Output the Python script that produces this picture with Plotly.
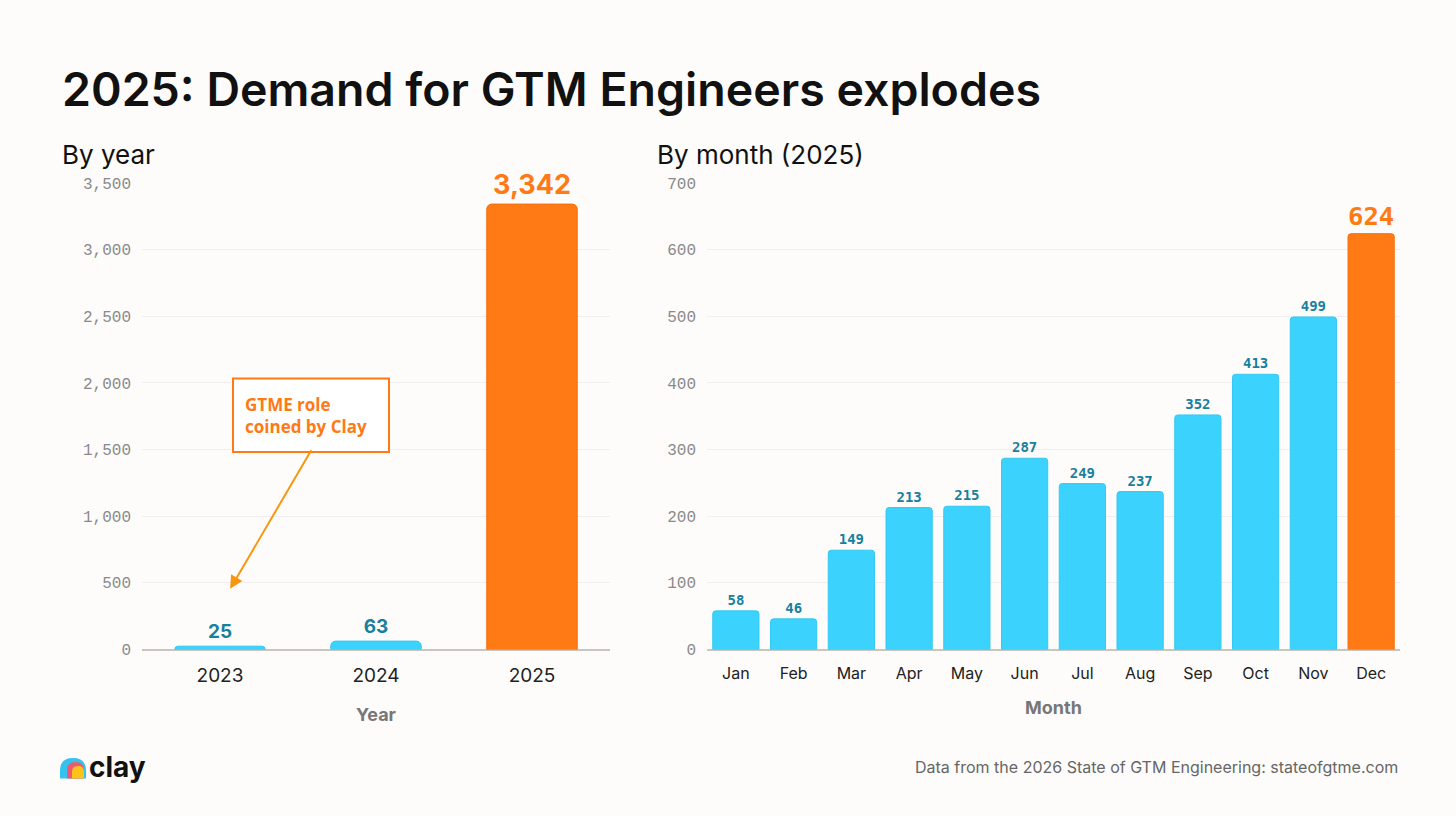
import plotly.graph_objects as go

years = ["2023", "2024", "2025"]
year_counts = [25, 63, 3342]

months = ["Jan", "Feb", "Mar", "Apr", "May", "Jun", "Jul", "Aug", "Sep", "Oct", "Nov", "Dec"]
month_counts = [58, 46, 149, 213, 215, 287, 249, 237, 352, 413, 499, 624]

BLUE = "#3bd3fd"
BLUE_TEXT = "#17809f"
ORANGE = "#ff7a14"
BG = "#fdfcfa"
W, H = 1456, 816


def px(x):
    return x / W


def py(y):
    return 1 - y / H


def last_orange(vals, normal, hi):
    return [hi if i == len(vals) - 1 else normal for i in range(len(vals))]


fig = go.Figure()

fig.add_trace(go.Bar(
    x=years, y=year_counts, xaxis="x", yaxis="y", width=0.58,
    marker=dict(color=last_orange(year_counts, BLUE, ORANGE), cornerradius=5,
                line=dict(color=last_orange(year_counts, "#33c8f2", "#f57010"), width=1)),
    texttemplate="%{y:,}", textposition="outside", cliponaxis=False,
    textfont=dict(family="Inter", weight=700,
                  size=last_orange(year_counts, 19, 27),
                  color=last_orange(year_counts, BLUE_TEXT, ORANGE)),
    hoverinfo="skip",
))

fig.add_trace(go.Bar(
    x=months, y=month_counts, xaxis="x2", yaxis="y2", width=0.8,
    marker=dict(color=last_orange(month_counts, BLUE, ORANGE), cornerradius=3,
                line=dict(color=last_orange(month_counts, "#33c8f2", "#f57010"), width=1)),
    texttemplate="%{y}", textposition="outside", cliponaxis=False,
    textfont=dict(family="DejaVu Sans Mono", weight=700,
                  size=last_orange(month_counts, 14, 26),
                  color=last_orange(month_counts, BLUE_TEXT, ORANGE)),
    hoverinfo="skip",
))

tickfont_y = dict(family="Liberation Mono", size=16, color="#8a8a8a")

fig.update_layout(
    width=W, height=H,
    paper_bgcolor=BG, plot_bgcolor=BG,
    margin=dict(l=0, r=0, t=0, b=0),
    showlegend=False,
    xaxis=dict(domain=[px(142), px(610)], showgrid=False, ticks="",
               tickfont=dict(family="Inter", size=19, color="#222"), ticklabelstandoff=12,
               title=dict(text="Year", font=dict(family="Inter", size=18, color="#777", weight=700),
                          standoff=22),
               showline=False, zeroline=False),
    yaxis=dict(domain=[py(657), py(180)], range=[0, 3500], tickvals=list(range(0, 3501, 500)),
               tickformat=",", tickfont=tickfont_y, gridcolor="#efefef", gridwidth=1,
               zeroline=True, zerolinecolor="#c9c6c2", zerolinewidth=2, ticklabelstandoff=10),
    xaxis2=dict(domain=[px(707), px(1400)], showgrid=False, ticks="",
                tickfont=dict(family="Inter", size=16, color="#222"), ticklabelstandoff=12,
                title=dict(text="Month", font=dict(family="Inter", size=18, color="#777", weight=700),
                           standoff=19),
                anchor="y2", showline=False, zeroline=False),
    yaxis2=dict(domain=[py(657), py(180)], range=[0, 700], tickvals=list(range(0, 701, 100)),
                tickfont=tickfont_y, gridcolor="#efefef", gridwidth=1, anchor="x2",
                zeroline=True, zerolinecolor="#c9c6c2", zerolinewidth=2, ticklabelstandoff=10),
)

annotations = [
    dict(text="2025: Demand for GTM Engineers explodes", x=px(60), y=py(84), xref="paper", yref="paper",
         xanchor="left", yanchor="middle", showarrow=False,
         font=dict(family="Inter", size=46.5, color="#111", weight=600)),
    dict(text="By year", x=px(60), y=py(151), xref="paper", yref="paper",
         xanchor="left", yanchor="middle", showarrow=False,
         font=dict(family="Inter", size=26, color="#111")),
    dict(text="By month (2025)", x=px(655), y=py(151), xref="paper", yref="paper",
         xanchor="left", yanchor="middle", showarrow=False,
         font=dict(family="Inter", size=26, color="#111")),
    dict(text="GTME role<br>coined by Clay", x=px(243), y=py(418), xref="paper", yref="paper",
         xanchor="left", yanchor="middle", align="left", showarrow=False,
         font=dict(family="Open Sans", size=17, color=ORANGE, weight=700)),
    dict(text="", x=0.065, y=455, xref="x", yref="y", ax=82, ay=-140,
         showarrow=True, arrowhead=2, arrowsize=1.3, arrowwidth=2, arrowcolor="#f9960f"),
    dict(text="Data from the 2026 State of GTM Engineering: stateofgtme.com", x=px(1400), y=py(777),
         xref="paper", yref="paper", xanchor="right", yanchor="middle", showarrow=False,
         font=dict(family="Inter", size=16, color="#666")),
    dict(text="clay", x=px(87), y=py(777), xref="paper", yref="paper",
         xanchor="left", yanchor="middle", showarrow=False,
         font=dict(family="Inter", size=28, color="#111", weight=700)),
]
fig.update_layout(annotations=annotations)


def arch(x0, x1, ytop, ybot, color):
    xm = (x0 + x1) / 2
    r = (x1 - x0) / 2
    path = (f"M {px(x0)},{py(ybot)} L {px(x0)},{py(ytop + r)} "
            f"Q {px(x0)},{py(ytop)} {px(xm)},{py(ytop)} "
            f"Q {px(x1)},{py(ytop)} {px(x1)},{py(ytop + r)} "
            f"L {px(x1)},{py(ybot)} Z")
    return dict(type="path", path=path, xref="paper", yref="paper",
                fillcolor=color, line=dict(width=0))


shapes = [
    dict(type="rect", xref="paper", yref="paper", x0=px(233), x1=px(389), y0=py(455), y1=py(380),
         fillcolor="white", line=dict(color=ORANGE, width=2), layer="above"),
    arch(60, 86, 768, 789, "#35c2ef"),
    arch(67, 84, 772, 789, "#ef5a6f"),
    arch(72, 84, 776, 789, "#ffc21a"),
]
fig.update_layout(shapes=shapes)

# page has a default 8px body margin; drop it so the figure sits at 0,0
fig.write_html("out.html", config={"displayModeBar": False},
               post_script="document.body.style.margin='0';document.body.style.background='%s';" % BG)
